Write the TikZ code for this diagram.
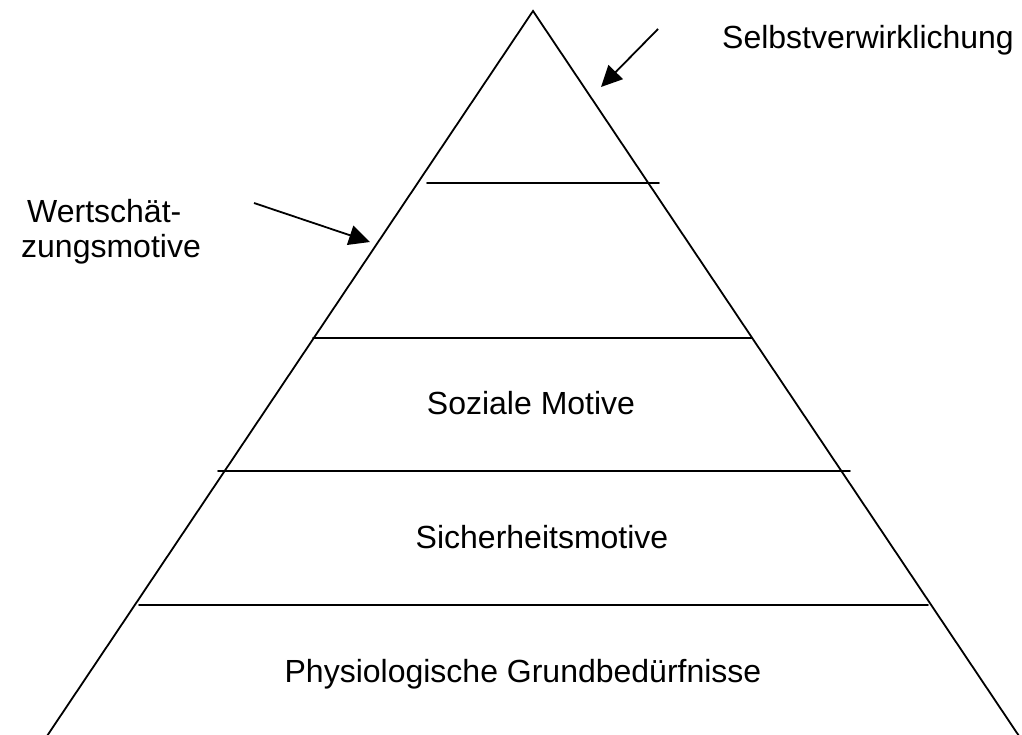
\documentclass[tikz,border=0pt]{standalone}
\usepackage{fontspec}
\setmainfont{Liberation Sans}
\usetikzlibrary{arrows.meta}
\begin{document}
\begin{tikzpicture}[x=1pt,y=-1pt,
  edge/.style={line width=1.8pt,line cap=round},
  pointer/.style={line width=1.8pt,-{Triangle[length=21pt,width=20pt]}},
  lbl/.style={inner sep=0pt,font=\fontsize{32}{35}\selectfont}]
\useasboundingbox (0,0) rectangle (1022,735);
% pyramid outline
\coordinate (apex) at (533,11);
\coordinate (bl) at (47,736);
\coordinate (br) at (1019,736);
\draw[edge] (bl) -- (apex) -- (br);
% level lines
\coordinate (l1a) at (427,183); \coordinate (l1b) at (659,183);
\coordinate (l2a) at (313,338); \coordinate (l2b) at (752,338);
\coordinate (l3a) at (218,471); \coordinate (l3b) at (850,471);
\coordinate (l4a) at (139,605); \coordinate (l4b) at (928,605);
\draw[edge] (l1a) -- (l1b);
\draw[edge] (l2a) -- (l2b);
\draw[edge] (l3a) -- (l3b);
\draw[edge] (l4a) -- (l4b);
% labels
\node[lbl,anchor=base] (selbst) at (868,49) {Selbstverwirklichung};
\node[lbl,anchor=base west,align=left] (wert) at (21,258) {\hspace*{6pt}Wertschät-\\zungsmotive};
\node[lbl,anchor=base] (sozial) at (531,414) {Soziale Motive};
\node[lbl,anchor=base] (sicher) at (542,548) {Sicherheitsmotive};
\node[lbl,anchor=base] (phys) at (523,682) {Physiologische Grundbedürfnisse};
% arrows
\coordinate (a1s) at (658,29); \coordinate (a1e) at (601,87);
\coordinate (a2s) at (254,203); \coordinate (a2e) at (370,242);
\draw[pointer] (a1s) -- (a1e);
\draw[pointer] (a2s) -- (a2e);
\end{tikzpicture}
\end{document}
